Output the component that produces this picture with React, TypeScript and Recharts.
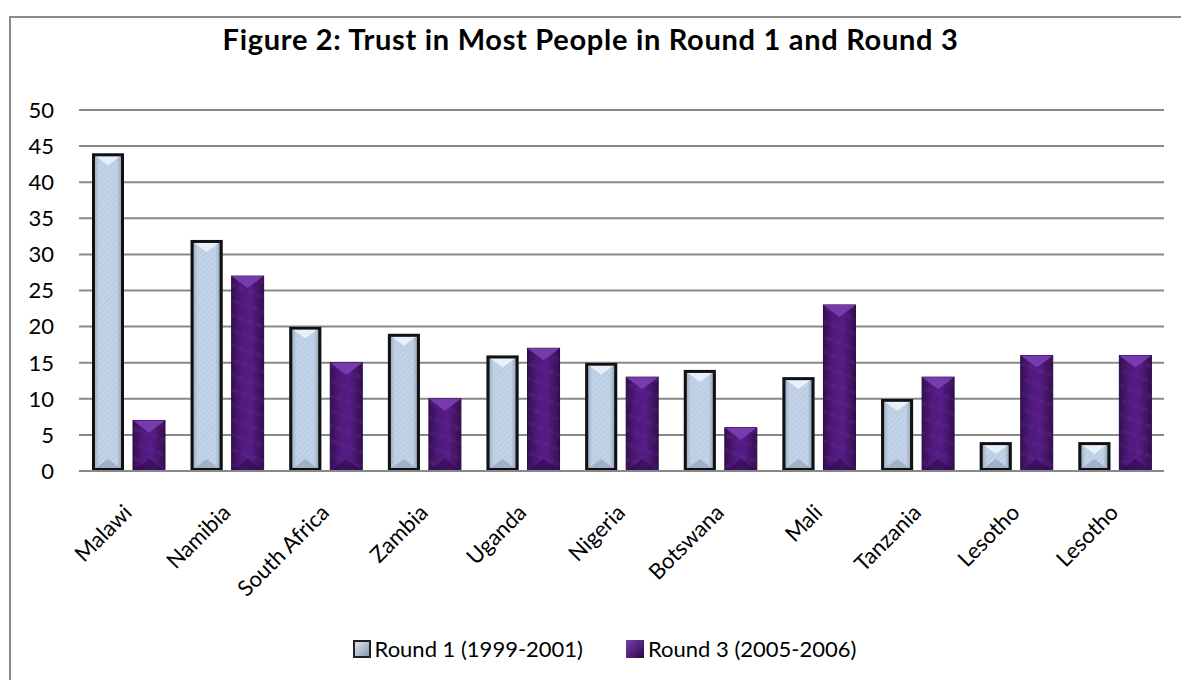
import React from 'react';
import { BarChart, Bar, XAxis, YAxis, CartesianGrid } from 'recharts';

const categories = ['Malawi', 'Namibia', 'South Africa', 'Zambia', 'Uganda', 'Nigeria', 'Botswana', 'Mali', 'Tanzania', 'Lesotho', 'Lesotho'];
const round1 = [44, 32, 20, 19, 16, 15, 14, 13, 10, 4, 4];
const round3 = [7, 27, 15, 10, 17, 13, 6, 23, 13, 16, 16];
const yTicks = [0, 5, 10, 15, 20, 25, 30, 35, 40, 45, 50];
const seriesNames = ['Round 1 (1999-2001)', 'Round 3 (2005-2006)'];
const titleText = 'Figure 2: Trust in Most People in Round 1 and Round 3';

const data = categories.map((c, i) => ({ name: c, r1: round1[i], r3: round3[i] }));

const FONT = 'Lato, "DejaVu Sans", sans-serif';

const Round1Shape = (props: any) => {
  const { x, y, width, height } = props;
  if (!height || height <= 0) return null;
  const b = Math.min(width / 2 - 2, height / 2, 12);
  return (
    <g>
      <rect x={x} y={y} width={width} height={height} fill="url(#r1grad)" />
      <rect x={x} y={y} width={width} height={height} fill="url(#r1hatch)" />
      <polygon points={`${x},${y} ${x + width},${y} ${x + width / 2},${y + b}`} fill="#eef4fc" opacity={0.85} />
      <polygon points={`${x},${y + height} ${x + width},${y + height} ${x + width / 2},${y + height - b}`} fill="#8e9cb0" opacity={0.6} />
      <rect x={x + 1.5} y={y + 1.5} width={width - 3} height={height - 3} fill="none" stroke="#111" strokeWidth={3} />
    </g>
  );
};

const Round3Shape = (props: any) => {
  const { x, y, width, height } = props;
  if (!height || height <= 0) return null;
  const b = Math.min(width / 2 - 2, height / 2, 12);
  return (
    <g>
      <rect x={x} y={y} width={width} height={height} fill="url(#r3grad)" stroke="#2a0846" strokeWidth={1} />
      <rect x={x} y={y} width={width} height={height} fill="url(#r3tex)" />
      <polygon points={`${x},${y} ${x + width},${y} ${x + width / 2},${y + b}`} fill="#7c3fb2" opacity={0.9} />
      <polygon points={`${x},${y + height} ${x + width},${y + height} ${x + width / 2},${y + height - b}`} fill="#2c0a4a" opacity={0.6} />
    </g>
  );
};

const XTick = (props: any) => {
  const { x, y, payload } = props;
  const ax = x + 5;
  const ay = y + 35;
  return (
    <text x={ax} y={ay} transform={`rotate(-45, ${ax}, ${ay})`} textAnchor="end" fontSize={22} fontFamily={FONT} fill="#000">
      {payload.value}
    </text>
  );
};

const LegendSwatch = ({ kind }: { kind: number }) => (
  <svg width={18} height={18} style={{ display: 'block' }}>
    <defs>
      <linearGradient id="lg1" x1="0" y1="0" x2="1" y2="1">
        <stop offset="0" stopColor="#e9f0f8" />
        <stop offset="1" stopColor="#7f8fa5" />
      </linearGradient>
      <linearGradient id="lg3" x1="0" y1="0" x2="1" y2="1">
        <stop offset="0" stopColor="#7a3fae" />
        <stop offset="1" stopColor="#2a0846" />
      </linearGradient>
    </defs>
    {kind === 0 ? (
      <>
        <rect x={0} y={0} width={18} height={18} fill="url(#lg1)" />
        <rect x={1} y={1} width={16} height={16} fill="none" stroke="#222" strokeWidth={2} />
      </>
    ) : (
      <rect x={0} y={0} width={18} height={18} fill="url(#lg3)" />
    )}
  </svg>
);

export default function App() {
  return (
    <div style={{ position: 'absolute', left: 0, top: 0, width: 1181, height: 680, overflow: 'hidden', background: '#fff' }}>
      <div style={{ position: 'absolute', left: 9, top: 16, width: 1300, height: 800, border: '2px solid #8a8a8a', boxSizing: 'border-box' }} />
      <div style={{ position: 'absolute', left: 0, top: 21, width: 1181, textAlign: 'center', fontFamily: FONT, fontWeight: 700, fontSize: 29, letterSpacing: 0.7, color: '#000', whiteSpace: 'nowrap' }}>
        {titleText}
      </div>
      <div style={{ position: 'absolute', left: 0, top: 0 }}>
        <BarChart width={1181} height={680} data={data} margin={{ top: 110, right: 17, left: 0, bottom: 0 }} barSize={32} barGap={9}>
          <defs>
            <linearGradient id="r1grad" x1="0" y1="0" x2="1" y2="0">
              <stop offset="0" stopColor="#8797ad" />
              <stop offset="0.22" stopColor="#c2d3e8" />
              <stop offset="0.78" stopColor="#c2d3e8" />
              <stop offset="1" stopColor="#7a8aa0" />
            </linearGradient>
            <pattern id="r1hatch" width="4" height="4" patternUnits="userSpaceOnUse" patternTransform="rotate(45)">
              <line x1="0" y1="0" x2="0" y2="4" stroke="#9fb0c6" strokeWidth="1" opacity="0.6" />
            </pattern>
            <pattern id="r3tex" width="10" height="14" patternUnits="userSpaceOnUse" patternTransform="rotate(20)">
              <ellipse cx="5" cy="7" rx="4" ry="2" fill="#6a2aa0" opacity="0.25" />
            </pattern>
            <linearGradient id="r3grad" x1="0" y1="0" x2="1" y2="0">
              <stop offset="0" stopColor="#35104f" />
              <stop offset="0.3" stopColor="#4f1a7c" />
              <stop offset="0.6" stopColor="#561c86" />
              <stop offset="1" stopColor="#34104e" />
            </linearGradient>
          </defs>
          <CartesianGrid vertical={false} stroke="#888" strokeWidth={2} />
          <XAxis
            dataKey="name"
            height={209}
            interval={0}
            tickLine={false}
            axisLine={{ stroke: '#888', strokeWidth: 2 }}
            tick={<XTick />}
          />
          <YAxis
            width={79}
            domain={[0, 50]}
            ticks={yTicks}
            tickLine={false}
            axisLine={false}
            tickSize={0}
            tickMargin={25}
            tick={{ fontSize: 22, fill: '#000', fontFamily: FONT }}
          />
          <Bar dataKey="r1" name={seriesNames[0]} shape={<Round1Shape />} isAnimationActive={false} />
          <Bar dataKey="r3" name={seriesNames[1]} shape={<Round3Shape />} isAnimationActive={false} />
        </BarChart>
      </div>
      <div style={{ position: 'absolute', left: 0, top: 638, width: 1181, display: 'flex', justifyContent: 'center', paddingLeft: 28, boxSizing: 'border-box', fontFamily: FONT, fontSize: 22, color: '#000' }}>
        {seriesNames.map((n, i) => (
          <div key={i} style={{ display: 'flex', alignItems: 'center', marginRight: i === 0 ? 43 : 0 }}>
            <LegendSwatch kind={i} />
            <span style={{ marginLeft: 4, lineHeight: '22px' }}>{n}</span>
          </div>
        ))}
      </div>
    </div>
  );
}
